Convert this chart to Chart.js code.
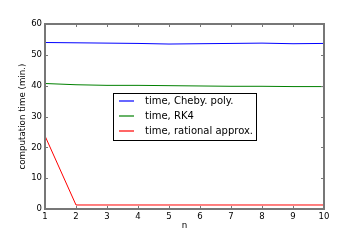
<!DOCTYPE html>
<html>
<head>
<meta charset="utf-8">
<script src="https://cdn.jsdelivr.net/npm/chart.js@4/dist/chart.umd.min.js"></script>
<style>
 body{margin:0;background:#fff;}
 canvas{display:block;}
</style>
</head>
<body>
<canvas id="grafica" width="360" height="240"></canvas>
<script>
var valoresN=[1,2,3,4,5,6,7,8,9,10];
var tiempoCheby=[54.0,53.9,53.8,53.7,53.5,53.6,53.7,53.8,53.6,53.7];
var tiempoRK4=[40.7,40.3,40.1,40.1,40.0,39.9,39.8,39.8,39.7,39.7];
var tiempoRacional=[23.7,1.3,1.3,1.3,1.3,1.3,1.3,1.3,1.3,1.3];
var etiquetas=['time, Cheby. poly.','time, RK4','time, rational approx.'];
var colores=['#0000ff','#008000','#ff0000'];

var fuente='"DejaVu Sans", sans-serif';

function puntos(valores){
  var arr=[];
  for(var x=0;x<valoresN.length;x++){
    arr.push({x:valoresN[x],y:valores[x]});
  }
  return arr;
}

// marco, ticks hacia dentro y leyenda estilo matplotlib
var marcoPlugin={
  id:'marco',
  afterDraw:function(chart){
    var ctx=chart.ctx;
    var a=chart.chartArea;
    var sx=chart.scales.x, sy=chart.scales.y;
    ctx.save();
    ctx.strokeStyle='#777';
    ctx.lineWidth=1;
    sx.ticks.forEach(function(t){
      var px=Math.round(sx.getPixelForValue(t.value))+0.5;
      ctx.beginPath();
      ctx.moveTo(px,a.bottom);ctx.lineTo(px,a.bottom-3);
      ctx.moveTo(px,a.top);ctx.lineTo(px,a.top+3);
      ctx.stroke();
    });
    sy.ticks.forEach(function(t){
      var py=Math.round(sy.getPixelForValue(t.value))+0.5;
      ctx.beginPath();
      ctx.moveTo(a.left,py);ctx.lineTo(a.left+3,py);
      ctx.moveTo(a.right,py);ctx.lineTo(a.right-3,py);
      ctx.stroke();
    });
    ctx.lineWidth=2;
    ctx.strokeRect(a.left,a.top,a.right-a.left,a.bottom-a.top);

    // leyenda
    var lx=113, ly=93, lw=143, lh=47;
    ctx.fillStyle='#fff';
    ctx.fillRect(lx,ly,lw,lh);
    ctx.strokeStyle='#000';
    ctx.lineWidth=1;
    ctx.strokeRect(lx+0.5,ly+0.5,lw,lh);
    ctx.font='10px '+fuente;
    ctx.textBaseline='middle';
    for(var i=0;i<etiquetas.length;i++){
      var yy=101+i*15;
      ctx.strokeStyle=colores[i];
      ctx.lineWidth=1.2;
      ctx.beginPath();
      ctx.moveTo(119,yy);ctx.lineTo(134,yy);
      ctx.stroke();
      ctx.fillStyle='#000';
      ctx.fillText(etiquetas[i],145,yy);
    }
    ctx.restore();
  }
};

var ctx=document.getElementById('grafica').getContext('2d');
var myChart=new Chart(ctx,{
  type:'line',
  data:{
    datasets:[
      {label:etiquetas[0],data:puntos(tiempoCheby),borderColor:colores[0],borderWidth:1,pointRadius:0,fill:false},
      {label:etiquetas[1],data:puntos(tiempoRK4),borderColor:colores[1],borderWidth:1,pointRadius:0,fill:false},
      {label:etiquetas[2],data:puntos(tiempoRacional),borderColor:colores[2],borderWidth:1,pointRadius:0,fill:false}
    ]
  },
  options:{
    responsive:false,
    animation:false,
    layout:{padding:{left:0,right:36,top:24,bottom:0}},
    plugins:{
      legend:{display:false},
      tooltip:{enabled:false}
    },
    scales:{
      x:{
        type:'linear',min:1,max:10,
        ticks:{stepSize:1,color:'#000',font:{family:fuente,size:8.5},padding:3,maxRotation:0},
        grid:{display:false,drawTicks:false},
        border:{display:false},
        title:{display:true,text:'n',color:'#000',font:{family:fuente,size:8.7},padding:{top:0,bottom:9}},
        afterFit:function(s){s.height=31;}
      },
      y:{
        min:0,max:60,
        ticks:{stepSize:10,color:'#000',font:{family:fuente,size:8.5},padding:3},
        grid:{display:false,drawTicks:false},
        border:{display:false},
        title:{display:true,text:'computation time (min.)',color:'#000',font:{family:fuente,size:8.7},padding:{top:18,bottom:0}},
        afterFit:function(s){s.width=45;}
      }
    }
  },
  plugins:[marcoPlugin]
});
</script>
</body>
</html>
